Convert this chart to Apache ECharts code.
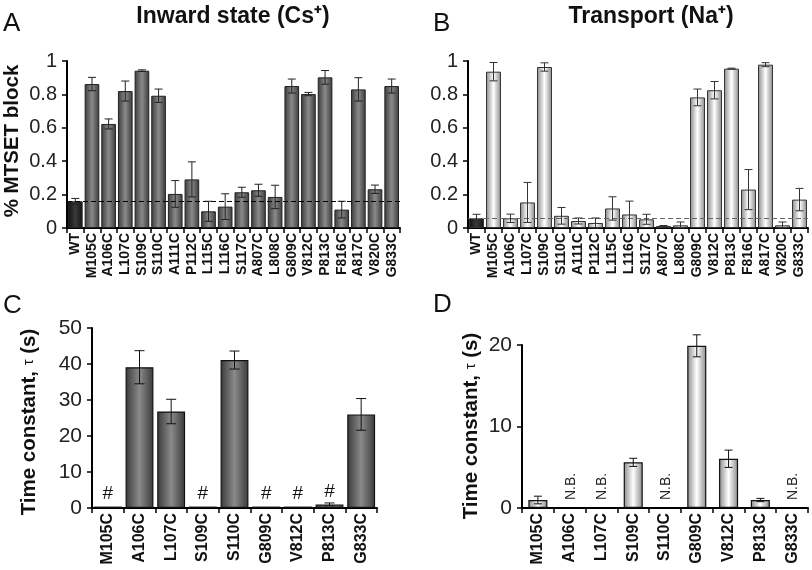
<!DOCTYPE html>
<html><head><meta charset="utf-8">
<script src="https://cdn.jsdelivr.net/npm/echarts@6/dist/echarts.min.js"></script>
<style>html,body{margin:0;padding:0;background:#fff}#c{width:812px;height:570px}</style>
</head><body><div id="c"></div>
<script>
// ---- data ----
const catsAB = ['WT','M105C','A106C','L107C','S109C','S110C','A111C','P112C','L115C','L116C','S117C','A807C','L808C','G809C','V812C','P813C','F816C','A817C','V820C','G833C'];
const valA = [0.16,0.862,0.623,0.82,0.942,0.792,0.204,0.291,0.10,0.128,0.214,0.226,0.186,0.85,0.802,0.902,0.11,0.83,0.232,0.85];
const errA = [0.017,0.04,0.03,0.06,0.005,0.04,0.08,0.105,0.06,0.077,0.03,0.036,0.07,0.042,0.01,0.041,0.05,0.07,0.025,0.042];
const baseA = 0.16;
const valB = [0.058,0.936,0.058,0.153,0.964,0.073,0.042,0.03,0.117,0.081,0.052,0.012,0.016,0.782,0.825,0.954,0.23,0.978,0.016,0.17];
const errB = [0.024,0.055,0.025,0.12,0.025,0.05,0.018,0.03,0.07,0.08,0.03,0.003,0.02,0.05,0.052,0.003,0.12,0.012,0.02,0.067];
const baseB = 0.063;
const catsCD = ['M105C','A106C','L107C','S109C','S110C','G809C','V812C','P813C','G833C'];
const valC = [0.4,39.1,26.8,0.4,41.1,0.4,0.4,1.0,26.0];
const errC = [0,4.6,3.4,0,2.5,0,0,0.4,4.4];
const markC = ['#','','','#','','#','#','#',''];
const valD = [0.98,null,null,5.6,null,19.9,6.04,0.98,null];
const errD = [0.47,0,0,0.5,0,1.35,1.06,0.2,0];
const markD = ['','N.B.','N.B.','','N.B.','','','','N.B.'];
const ticksAB = [0,0.2,0.4,0.6,0.8,1];
const ticksC = [0,10,20,30,40,50];
const ticksD = [0,10,20];
const titleA = 'Inward state (Cs\u207A)';
const titleB = 'Transport (Na\u207A)';
const yTitleAB = '% MTSET block';

// ---- styling ----
const FONT = '"Liberation Sans", Arial, sans-serif';
const G = echarts.graphic;
function grad(edge, mid){
  return new G.LinearGradient(0,0,1,0,[{offset:0,color:edge},{offset:0.5,color:mid},{offset:1,color:edge}]);
}
const darkFill = grad('#3a3a3a','#8a8a8a');
const lightFill = grad('#8a8a8a','#ffffff');
const wtFill = grad('#111111','#3a3a3a');

function xAxisCfg(idx, cats, fs){
  return {type:'category', gridIndex:idx, data:cats,
    axisLine:{lineStyle:{color:'#000',width:2}},
    axisTick:{show:true,interval:0,length:5,lineStyle:{color:'#000',width:1.5}},
    axisLabel:{interval:0,rotate:90,margin:5,fontFamily:FONT,fontWeight:'bold',fontSize:fs,color:'#111'},
    splitLine:{show:false}};
}
function yAxisCfg(idx, ticks, fs){
  return {type:'value', gridIndex:idx, min:ticks[0], max:ticks[ticks.length-1], interval:ticks[1]-ticks[0],
    axisLine:{show:true,lineStyle:{color:'#000',width:2}},
    axisTick:{show:true,length:5,lineStyle:{color:'#000',width:1.5}},
    axisLabel:{margin:10,fontFamily:FONT,fontSize:fs,color:'#222'},
    splitLine:{show:false}};
}
function errSeries(idx, vals, errs, cap, color){
  return {type:'custom', xAxisIndex:idx, yAxisIndex:idx, silent:true, z:5, clip:false,
    data: vals.map((v,i)=>[i, v==null?NaN:v, errs[i]]),
    renderItem(params, api){
      const v = api.value(1), e = api.value(2);
      if (isNaN(v) || !e) return;
      const i = api.value(0);
      const t = api.coord([i, v+e]), b = api.coord([i, Math.max(v-e,0)]);
      const st = {stroke:color, lineWidth:1};
      return {type:'group', children:[
        {type:'line', shape:{x1:t[0],y1:t[1],x2:b[0],y2:b[1]}, style:st},
        {type:'line', shape:{x1:t[0]-cap,y1:t[1],x2:t[0]+cap,y2:t[1]}, style:st},
        {type:'line', shape:{x1:b[0]-cap,y1:b[1],x2:b[0]+cap,y2:b[1]}, style:st}
      ]};
    }};
}
function barData(vals, fill, firstDark){
  return vals.map((v,i)=>({value:v, itemStyle:{color:(firstDark&&i===0)?wtFill:fill}}));
}

const option = {
  animation:false,
  backgroundColor:'#fff',
  grid:[
    {left:67, top:61, width:333, height:167, containLabel:false, outerBoundsMode:'none'},
    {left:468, top:61, width:340, height:167, containLabel:false, outerBoundsMode:'none'},
    {left:92, top:328, width:285, height:180, containLabel:false, outerBoundsMode:'none'},
    {left:522, top:345, width:286, height:163, containLabel:false, outerBoundsMode:'none'}
  ],
  xAxis:[xAxisCfg(0,catsAB,14), xAxisCfg(1,catsAB,14), xAxisCfg(2,catsCD,16), xAxisCfg(3,catsCD,16)],
  yAxis:[yAxisCfg(0,ticksAB,20), yAxisCfg(1,ticksAB,20), yAxisCfg(2,ticksC,21), yAxisCfg(3,ticksD,21)],
  series:[
    {type:'bar', xAxisIndex:0, yAxisIndex:0, barCategoryGap:'12%', data:barData(valA,darkFill,true),
      itemStyle:{borderColor:'#222',borderWidth:1},
      markLine:{silent:true, symbol:'none', label:{show:false}, data:[{yAxis:baseA}],
        lineStyle:{type:[5,3],color:'#000',width:1}}},
    errSeries(0, valA, errA, 4, '#222'),
    {type:'bar', xAxisIndex:1, yAxisIndex:1, barCategoryGap:'12%', data:barData(valB,lightFill,true),
      itemStyle:{borderColor:'#333',borderWidth:1},
      markLine:{silent:true, symbol:'none', label:{show:false}, data:[{yAxis:baseB}],
        lineStyle:{type:[5,3],color:'#666',width:1}}},
    errSeries(1, valB, errB, 4, '#333'),
    {type:'bar', xAxisIndex:2, yAxisIndex:2, barCategoryGap:'12%', data:barData(valC,darkFill,false),
      itemStyle:{borderColor:'#111',borderWidth:1.2}},
    errSeries(2, valC, errC, 5, '#111'),
    {type:'bar', xAxisIndex:3, yAxisIndex:3, barCategoryGap:'40%', data:barData(valD,lightFill,false),
      itemStyle:{borderColor:'#111',borderWidth:1.2}},
    errSeries(3, valD, errD, 4, '#111'),
    {type:'custom', xAxisIndex:2, yAxisIndex:2, silent:true, z:6,
      data: markC.map((m,i)=>[i, valC[i], m]),
      renderItem(params, api){
        const m = markC[params.dataIndex]; if (!m) return;
        const p = api.coord([api.value(0), api.value(1)]);
        return {type:'text', x:p[0], y:p[1]-3, style:{text:m, align:'center', verticalAlign:'bottom', font:'19px '+FONT, fill:'#111'}};
      }},
    {type:'custom', xAxisIndex:3, yAxisIndex:3, silent:true, z:6,
      data: markD.map((m,i)=>[i, 0, m]),
      renderItem(params, api){
        const m = markD[params.dataIndex]; if (!m) return;
        const p = api.coord([api.value(0), 0]);
        return {type:'text', x:p[0]+1, y:p[1]-8, rotation:Math.PI/2,
          style:{text:m, align:'left', verticalAlign:'middle', font:'14px '+FONT, fill:'#222'}};
      }}
  ],
  graphic:[
    {type:'text', left:3, top:11, style:{text:'A', font:'26px '+FONT, fill:'#111'}},
    {type:'text', left:433, top:11, style:{text:'B', font:'26px '+FONT, fill:'#111'}},
    {type:'text', left:3, top:293, style:{text:'C', font:'26px '+FONT, fill:'#111'}},
    {type:'text', left:433, top:292, style:{text:'D', font:'26px '+FONT, fill:'#111'}},
    {type:'text', x:233, y:17, style:{text:titleA, align:'center', verticalAlign:'middle', font:'bold 23px '+FONT, fill:'#111'}},
    {type:'text', x:651, y:17, style:{text:titleB, align:'center', verticalAlign:'middle', font:'bold 23px '+FONT, fill:'#111'}},
    {type:'text', x:12, y:141, rotation:Math.PI/2, style:{text:yTitleAB, align:'center', verticalAlign:'middle', font:'bold 20.5px '+FONT, fill:'#111'}},
    {type:'text', x:29, y:422, rotation:Math.PI/2, style:{text:'{b|Time constant, }{t|\u03C4}{b| (s)}', align:'center', verticalAlign:'middle',
      rich:{b:{font:'bold 20.5px '+FONT, fill:'#111'}, t:{font:'15px '+FONT, fill:'#111'}}}},
    {type:'text', x:471, y:426, rotation:Math.PI/2, style:{text:'{b|Time constant, }{t|\u03C4}{b| (s)}', align:'center', verticalAlign:'middle',
      rich:{b:{font:'bold 20.5px '+FONT, fill:'#111'}, t:{font:'15px '+FONT, fill:'#111'}}}}
  ]
};
const chart = echarts.init(document.getElementById('c'), null, {renderer:'canvas'});
chart.setOption(option);
</script></body></html>
